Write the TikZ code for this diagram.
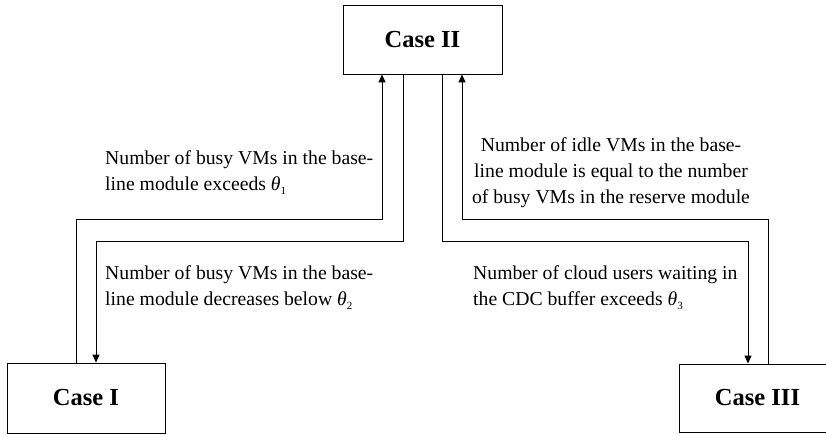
\documentclass[tikz,border=0pt]{standalone}
\usepackage{fontspec}
\setmainfont{Liberation Serif}
\usetikzlibrary{arrows.meta}
\newcommand{\thsub}[1]{{\itshape θ}\raisebox{-0.45ex}{\fontsize{11}{11}\selectfont #1}}
\begin{document}
\begin{tikzpicture}[x=1pt,y=-1pt,
  casebox/.style={draw,line width=0.9pt,font=\fontsize{24.5}{28}\selectfont\bfseries,inner sep=0pt},
  conn/.style={line width=0.9pt},
  arr/.style={conn,-{Triangle[length=8pt,width=7pt]}},
  lbl/.style={font=\fontsize{19.7}{26}\selectfont,inner sep=0pt}]
\useasboundingbox (0,0) rectangle (826,435);
\node[casebox,minimum width=159pt,minimum height=69pt] (c2) at (422.5,39.5) {Case II};
\node[casebox,minimum width=158pt,minimum height=70pt] (c1) at (86,398) {Case I};
\node[casebox,minimum width=157pt,minimum height=68pt] (c3) at (757.5,398) {Case III};
\coordinate (h1) at (0,219);
\coordinate (h2) at (0,241);
\coordinate (a1) at ([xshift=-10pt]c1.north);
\coordinate (b1) at ([xshift=10pt]c1.north);
\coordinate (a2) at ([xshift=-40.5pt]c2.south);
\coordinate (b2) at ([xshift=-19.5pt]c2.south);
\coordinate (d2) at ([xshift=19.5pt]c2.south);
\coordinate (e2) at ([xshift=39.5pt]c2.south);
\coordinate (a3) at ([xshift=-9.5pt]c3.north);
\coordinate (b3) at ([xshift=10.5pt]c3.north);
\draw[arr] (a1) -- (a1 |- h1) -- (a2 |- h1) -- (a2);
\draw[arr] (b2) -- (b2 |- h2) -- (b1 |- h2) -- (b1);
\draw[arr] (d2) -- (d2 |- h2) -- (a3 |- h2) -- (a3);
\draw[arr] (b3) -- (b3 |- h1) -- (e2 |- h1) -- (e2);
\node[lbl,anchor=north west,align=left] (t1) at (105,150) {Number of busy VMs in the base-\\line module exceeds \thsub{1}};
\node[lbl,anchor=north west,align=left] (t2) at (105,265) {Number of busy VMs in the base-\\line module decreases below \thsub{2}};
\node[lbl,anchor=north,align=center] (t3) at (611,137) {Number of idle VMs in the base-\\line module is equal to the number\\of busy VMs in the reserve module};
\node[lbl,anchor=north west,align=left] (t4) at (473,265) {Number of cloud users waiting in\\the CDC buffer exceeds \thsub{3}};
\end{tikzpicture}
\end{document}
